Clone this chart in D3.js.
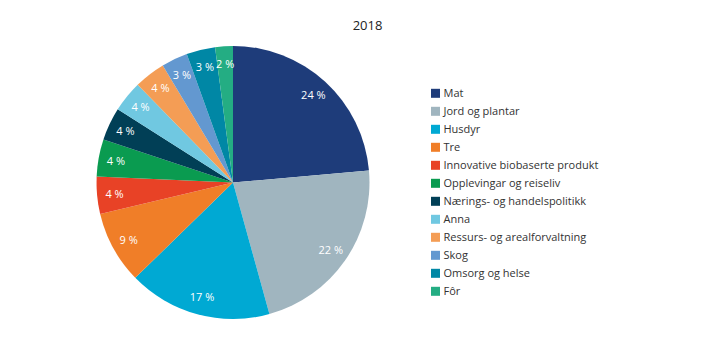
<!DOCTYPE html>
<html>
<head>
<meta charset="utf-8">
<script src="https://cdn.jsdelivr.net/npm/d3@7"></script>
<style>
  html, body { margin: 0; padding: 0; background: #fff; }
  svg { display: block; font-family: "Open Sans", "Noto Sans", sans-serif; }
</style>
</head>
<body>
<svg id="chart" width="720" height="341"></svg>
<script>
// Share of projects by theme, 2018 (per cent)
const title = "2018";
const categories = [
  "Mat", "Jord og plantar", "Husdyr", "Tre", "Innovative biobaserte produkt",
  "Opplevingar og reiseliv", "Nærings- og handelspolitikk", "Anna",
  "Ressurs- og arealforvaltning", "Skog", "Omsorg og helse", "Fôr"
];
const shares = [23.6, 22.1, 17.0, 8.6, 4.4, 4.4, 3.9, 3.7, 3.7, 3.1, 3.4, 2.1];
const colours = [
  "#1e3c7a", "#a0b5bf", "#00a9d3", "#f07e28", "#e84226", "#0a9b50",
  "#013f56", "#70c8e1", "#f49d55", "#6398d0", "#0087a5", "#24ad83"
];

const svg = d3.select("#chart");
const cx = 233, cy = 182.5, radius = 136.5, labelRadius = 119;

const pie = d3.pie().value(d => d.value).sort(null);
const data = categories.map((c, i) => ({ name: c, value: shares[i], colour: colours[i] }));
const arcs = pie(data);

const arc = d3.arc().innerRadius(0).outerRadius(radius);
const labelArc = d3.arc().innerRadius(labelRadius).outerRadius(labelRadius);

const g = svg.append("g").attr("transform", `translate(${cx},${cy})`);

g.selectAll("path.slice")
  .data(arcs)
  .join("path")
  .attr("class", "slice")
  .attr("d", arc)
  .attr("fill", d => d.data.colour);

const fmt = v => `${Math.round(v)} %`;
g.selectAll("text.val")
  .data(arcs)
  .join("text")
  .attr("class", "val")
  .attr("transform", d => `translate(${labelArc.centroid(d)})`)
  .attr("text-anchor", "middle")
  .attr("dy", "0.35em")
  .attr("fill", "#fff")
  .attr("font-size", 11)
  .text(d => fmt(d.data.value));

// Title
svg.append("text")
  .attr("x", 367.5)
  .attr("y", 30)
  .attr("text-anchor", "middle")
  .attr("font-size", 13)
  .attr("fill", "#222")
  .text(title);

// Legend
const legend = svg.append("g").attr("transform", "translate(431,93.3)");
const rowH = 18;
const rows = legend.selectAll("g.row")
  .data(data)
  .join("g")
  .attr("class", "row")
  .attr("transform", (d, i) => `translate(0,${i * rowH})`);
rows.append("rect")
  .attr("x", 0).attr("y", -4.5)
  .attr("width", 9).attr("height", 9)
  .attr("fill", d => d.colour);
rows.append("text")
  .attr("x", 12.5)
  .attr("dy", "0.35em")
  .attr("font-size", 11)
  .attr("fill", "#333")
  .text(d => d.name);
</script>
</body>
</html>
